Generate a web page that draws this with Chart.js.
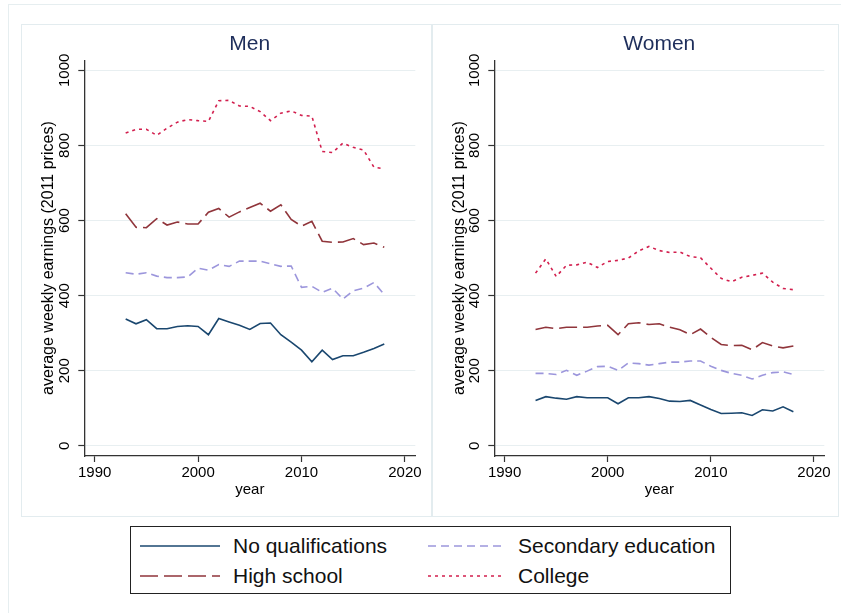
<!DOCTYPE html>
<html lang="en">
  <head>
    <meta charset="UTF-8" />
    <script src="https://cdn.jsdelivr.net/npm/chart.js@4.4.0/dist/chart.umd.min.js"></script>
    <title>Average weekly earnings by education</title>
    <style>
      body {
        margin: 0;
        padding: 0;
        background: #fff;
        width: 841px;
        height: 613px;
        position: relative;
        overflow: hidden;
        font-family: 'Liberation Sans', Arial, sans-serif;
      }
      .frame {
        position: absolute;
        left: 8px;
        top: 4px;
        width: 840px;
        height: 620px;
        border: 1px solid #e6eef0;
      }
      .panel {
        position: absolute;
        top: 24px;
        height: 493px;
        box-sizing: border-box;
        border: 1px solid #e3ecef;
      }
      .panel canvas {
        position: absolute;
        left: 0;
        top: 0;
      }
      .legend {
        position: absolute;
        left: 130px;
        top: 526px;
        width: 601px;
        height: 68px;
        box-sizing: border-box;
        border: 1.3px solid #222;
        background: #fff;
      }
      .item {
        position: absolute;
        height: 26px;
        font-size: 21px;
        line-height: 26px;
        color: #111;
        white-space: nowrap;
      }
      .item svg {
        position: absolute;
        top: 0;
      }
      .item span {
        position: absolute;
        top: 0;
      }
    </style>
  </head>
  <body>
    <div class="frame"></div>
    <div class="panel" style="left: 21px; width: 411px">
      <canvas id="chartMen" width="410" height="493"></canvas>
    </div>
    <div class="panel" style="left: 432px; width: 407px">
      <canvas id="chartWomen" width="406" height="493"></canvas>
    </div>
    <div class="legend" id="legend"></div>
    <script>
      const years = [1993, 1994, 1995, 1996, 1997, 1998, 1999, 2000, 2001, 2002, 2003, 2004, 2005,
        2006, 2007, 2008, 2009, 2010, 2011, 2012, 2013, 2014, 2015, 2016, 2017, 2018]

      const menNoQual = [338, 325, 336, 312, 312, 318, 320, 318, 296, 339, 330, 321, 310,
        326, 327, 296, 276, 255, 224, 255, 230, 240, 240, 249, 259, 271]
      const menSecondary = [461, 457, 461, 452, 448, 448, 450, 473, 468, 483, 478, 492, 492,
        492, 485, 478, 479, 422, 425, 409, 420, 391, 413, 420, 435, 403]
      const menHigh = [618, 582, 581, 605, 588, 596, 591, 591, 622, 632, 609, 623, 635,
        646, 625, 642, 603, 585, 598, 545, 542, 543, 552, 536, 540, 529]
      const menCollege = [833, 843, 843, 827, 846, 862, 869, 866, 864, 919, 920, 905, 904,
        890, 866, 886, 892, 880, 878, 784, 781, 806, 795, 788, 742, 738]

      const womenNoQual = [121, 131, 127, 124, 131, 128, 128, 128, 112, 128, 128, 131, 126,
        119, 118, 121, 109, 97, 86, 87, 88, 81, 96, 93, 104, 91]
      const womenSecondary = [193, 193, 190, 201, 188, 199, 211, 212, 201, 221, 219, 215, 219,
        223, 223, 226, 226, 212, 201, 193, 188, 178, 188, 195, 197, 190]
      const womenHigh = [310, 316, 312, 316, 316, 316, 319, 321, 296, 325, 328, 323, 325,
        316, 309, 296, 311, 289, 270, 267, 268, 256, 275, 266, 261, 266]
      const womenCollege = [460, 498, 451, 481, 482, 489, 475, 491, 494, 500, 519, 531, 520,
        515, 516, 504, 501, 473, 446, 437, 449, 454, 460, 436, 419, 416]

      const seriesNames = ['No qualifications', 'Secondary education', 'High school', 'College']
      const xTicks = [1990, 2000, 2010, 2020]
      const yTicks = [0, 200, 400, 600, 800, 1000]

      const styles = {
        'No qualifications': { color: '#1a476f', dash: [] },
        'Secondary education': { color: '#9c96dc', dash: [8, 5] },
        'High school': { color: '#90353b', dash: [18, 6] },
        College: { color: '#d21f4e', dash: [3, 4] },
      }

      const FONT = "'Liberation Sans', Arial, sans-serif"
      Chart.defaults.font.family = FONT
      Chart.defaults.color = '#000'

      const makePanel = (id, title, values, yWidth, padRight) => {
        const datasets = seriesNames.map((name, i) => ({
          label: name,
          data: years.map((yr, j) => ({ x: yr, y: values[i][j] })),
          borderColor: styles[name].color,
          borderDash: styles[name].dash,
          borderWidth: 1.6,
          pointRadius: 0,
          tension: 0,
          fill: false,
        }))
        return new Chart(document.getElementById(id).getContext('2d'), {
          type: 'line',
          data: { datasets },
          options: {
            responsive: false,
            animation: false,
            layout: { padding: { left: 0, right: padRight, top: 0, bottom: 0 } },
            plugins: {
              legend: { display: false },
              tooltip: { enabled: false },
              title: {
                display: true,
                text: title,
                fullSize: false,
                color: '#1e2e5b',
                font: { size: 21, weight: 'normal' },
                padding: { top: 7, bottom: 3 },
              },
            },
            scales: {
              x: {
                type: 'linear',
                min: 1989,
                max: 2021,
                afterBuildTicks: (scale) => {
                  scale.ticks = xTicks.map((v) => ({ value: v }))
                },
                afterFit: (scale) => {
                  scale.height = 62
                },
                border: { color: '#333', width: 1.3 },
                grid: {
                  drawOnChartArea: false,
                  drawTicks: true,
                  tickLength: 6,
                  tickColor: '#333',
                  tickWidth: 1.2,
                },
                ticks: {
                  padding: 2,
                  maxRotation: 0,
                  font: { size: 15 },
                  color: '#000',
                  callback: (v) => String(v),
                },
                title: {
                  display: true,
                  text: 'year',
                  font: { size: 15 },
                  color: '#000',
                  padding: { top: 0, bottom: 19 },
                },
              },
              y: {
                type: 'linear',
                min: -27,
                max: 1027,
                afterBuildTicks: (scale) => {
                  scale.ticks = yTicks.map((v) => ({ value: v }))
                },
                afterFit: (scale) => {
                  scale.width = yWidth
                },
                border: { color: '#333', width: 1.3 },
                grid: {
                  color: '#e8eff1',
                  lineWidth: 1,
                  drawTicks: true,
                  tickLength: 6,
                  tickColor: '#333',
                  tickWidth: 1.2,
                },
                ticks: {
                  minRotation: 90,
                  maxRotation: 90,
                  crossAlign: 'center',
                  padding: -3,
                  font: { size: 15 },
                  color: '#000',
                  callback: (v) => String(v),
                },
                title: {
                  display: true,
                  text: 'average weekly earnings (2011 prices)',
                  font: { size: 16 },
                  color: '#000',
                  padding: { top: 17, bottom: 0 },
                },
              },
            },
          },
        })
      }

      makePanel('chartMen', 'Men', [menNoQual, menSecondary, menHigh, menCollege], 62.3, 16.7)
      makePanel('chartWomen', 'Women', [womenNoQual, womenSecondary, womenHigh, womenCollege], 61.3, 14.7)

      // legend: two columns, No qualifications / Secondary on the first row
      const legendPos = [
        { left: 9, top: 6 },
        { left: 297, top: 6 },
        { left: 9, top: 36 },
        { left: 297, top: 36 },
      ]
      const legend = document.getElementById('legend')
      seriesNames.forEach((name, i) => {
        const st = styles[name]
        const w = i % 2 === 0 ? 80 : 76
        const textLeft = i % 2 === 0 ? 93 : 90
        const item = document.createElement('div')
        item.className = 'item'
        item.style.left = legendPos[i].left + 'px'
        item.style.top = legendPos[i].top + 'px'
        item.innerHTML =
          '<svg width="' + w + '" height="26"><line x1="0" y1="13" x2="' + w + '" y2="13" stroke="' +
          st.color + '" stroke-width="1.6" stroke-dasharray="' + (st.dash.length ? st.dash.join(' ') : 'none') +
          '"/></svg><span style="left:' + textLeft + 'px">' + name + '</span>'
        legend.appendChild(item)
      })
    </script>
  </body>
</html>
